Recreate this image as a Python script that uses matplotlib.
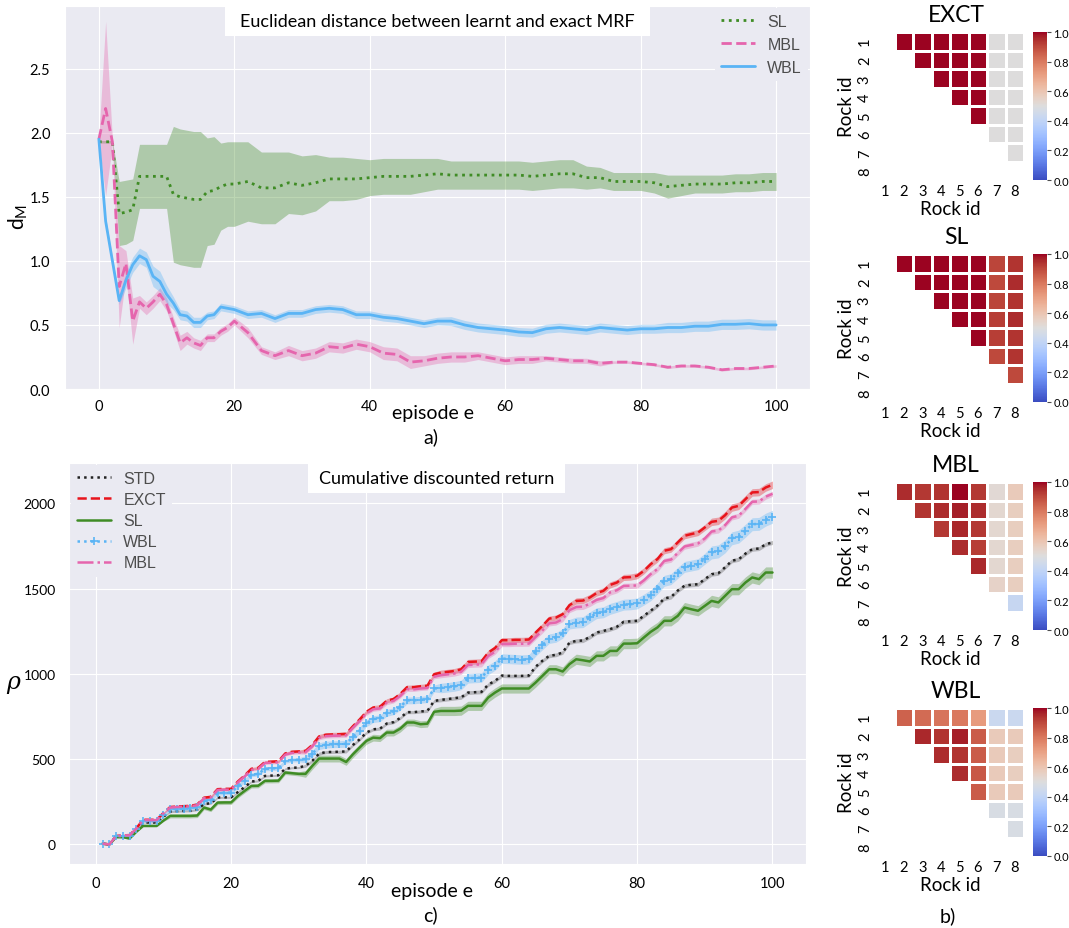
import numpy as np
import matplotlib.pyplot as plt
import seaborn as sns
from matplotlib.colors import ListedColormap
from matplotlib.patches import Rectangle
from matplotlib.ticker import MultipleLocator

# ---- distance between learnt and exact MRF (panel a) ----
ep_a = list(range(0, 21)) + list(range(22, 101, 2))

sl_d = [1.93, 1.93, 1.93, 1.37, 1.38, 1.40, 1.66, 1.66, 1.66, 1.66, 1.66,
        1.52, 1.50, 1.49, 1.48, 1.48, 1.54, 1.55, 1.58, 1.60, 1.60,
        1.62, 1.57, 1.57, 1.61, 1.59, 1.61, 1.64, 1.64, 1.64, 1.65,
        1.66, 1.66, 1.66, 1.67, 1.68, 1.67, 1.67, 1.67, 1.67, 1.67,
        1.67, 1.66, 1.67, 1.68, 1.68, 1.65, 1.65, 1.62, 1.62, 1.62,
        1.61, 1.58, 1.59, 1.60, 1.60, 1.60, 1.61, 1.61, 1.62, 1.62]
sl_d_std = [0.01, 0.01, 0.01, 0.25, 0.25, 0.24, 0.25, 0.25, 0.25, 0.25, 0.25,
            0.53, 0.53, 0.53, 0.53, 0.53, 0.42, 0.42, 0.34, 0.33, 0.33,
            0.31, 0.28, 0.28, 0.24, 0.23, 0.22, 0.17, 0.17, 0.16, 0.14,
            0.14, 0.14, 0.14, 0.13, 0.12, 0.11, 0.11, 0.11, 0.11, 0.11,
            0.11, 0.11, 0.11, 0.11, 0.11, 0.09, 0.08, 0.07, 0.07, 0.07,
            0.08, 0.09, 0.08, 0.07, 0.07, 0.07, 0.07, 0.07, 0.07, 0.07]

mbl_d = [1.95, 2.19, 1.93, 0.80, 0.98, 0.53, 0.68, 0.63, 0.68, 0.74, 0.66,
         0.51, 0.36, 0.40, 0.36, 0.34, 0.40, 0.40, 0.45, 0.48, 0.53,
         0.44, 0.30, 0.26, 0.30, 0.26, 0.28, 0.33, 0.32, 0.35, 0.33,
         0.28, 0.27, 0.21, 0.22, 0.24, 0.25, 0.25, 0.26, 0.24, 0.22,
         0.23, 0.23, 0.24, 0.23, 0.22, 0.22, 0.20, 0.21, 0.21, 0.20,
         0.19, 0.17, 0.18, 0.18, 0.17, 0.15, 0.16, 0.16, 0.17, 0.18]
mbl_d_std = [0.02, 0.68, 0.02, 0.32, 0.10, 0.18, 0.05, 0.05, 0.05, 0.05, 0.05,
             0.05, 0.06, 0.05, 0.04, 0.04, 0.03, 0.03, 0.03, 0.03, 0.03,
             0.04, 0.03, 0.03, 0.04, 0.04, 0.04, 0.04, 0.04, 0.04, 0.04,
             0.05, 0.05, 0.05, 0.04, 0.04, 0.04, 0.04, 0.03, 0.03, 0.03,
             0.03, 0.03, 0.02, 0.02, 0.02, 0.02, 0.02, 0.01, 0.01, 0.01,
             0.01, 0.01, 0.01, 0.01, 0.01, 0.01, 0.01, 0.01, 0.01, 0.01]

wbl_d = [1.95, 1.31, 1.00, 0.69, 0.85, 0.97, 1.04, 1.01, 0.88, 0.84, 0.74,
         0.67, 0.58, 0.57, 0.52, 0.52, 0.57, 0.58, 0.64, 0.63, 0.62,
         0.58, 0.59, 0.55, 0.59, 0.59, 0.62, 0.63, 0.62, 0.58, 0.58,
         0.56, 0.55, 0.53, 0.51, 0.53, 0.53, 0.50, 0.48, 0.47, 0.46,
         0.445, 0.44, 0.47, 0.48, 0.47, 0.46, 0.48, 0.47, 0.46, 0.47,
         0.47, 0.48, 0.48, 0.49, 0.49, 0.505, 0.505, 0.51, 0.50, 0.50]
wbl_d_std = [0.02, 0.03, 0.03, 0.03, 0.06, 0.06, 0.06, 0.06, 0.08, 0.08, 0.07,
             0.05, 0.04, 0.04, 0.04, 0.04, 0.03, 0.03, 0.03, 0.03, 0.03,
             0.03, 0.03, 0.03, 0.03, 0.03, 0.03, 0.03, 0.03, 0.03, 0.03,
             0.03, 0.03, 0.03, 0.03, 0.03, 0.035, 0.035, 0.035, 0.035, 0.035,
             0.035, 0.035, 0.035, 0.035, 0.035, 0.035, 0.035, 0.035, 0.035, 0.035,
             0.035, 0.04, 0.04, 0.04, 0.04, 0.04, 0.04, 0.04, 0.04, 0.04]

# ---- cumulative discounted return (panel c) ----
ep_c = list(range(1, 101))

std_ret = [0, -4, 41, 43, 45, 80, 124, 124, 124, 158,
           188, 190, 192, 193, 200, 233, 237, 271, 272, 272,
           303, 332, 365, 369, 398, 400, 402, 440, 446, 447,
           458, 487, 529, 538, 539, 540, 542, 580, 613, 653,
           672, 676, 706, 714, 739, 773, 773, 777, 780, 839,
           845, 850, 855, 860, 888, 890, 892, 935, 957, 988,
           986, 986, 986, 988, 1040, 1075, 1104, 1110, 1124, 1182,
           1192, 1194, 1215, 1241, 1250, 1261, 1275, 1304, 1307, 1310,
           1340, 1369, 1400, 1441, 1450, 1488, 1516, 1522, 1525, 1555,
           1584, 1590, 1625, 1663, 1672, 1705, 1731, 1735, 1760, 1771]
exct_ret = [0, -5, 45, 48, 50, 90, 140, 140, 140, 180,
            215, 218, 220, 222, 230, 270, 275, 320, 322, 322,
            365, 400, 440, 445, 480, 482, 484, 530, 540, 542,
            545, 580, 630, 640, 642, 643, 645, 690, 730, 775,
            800, 805, 840, 850, 880, 920, 920, 925, 928, 996,
            1005, 1010, 1015, 1025, 1068, 1070, 1072, 1123, 1150, 1196,
            1196, 1198, 1198, 1200, 1241, 1280, 1323, 1329, 1349, 1402,
            1427, 1429, 1447, 1473, 1486, 1521, 1535, 1565, 1567, 1575,
            1604, 1643, 1673, 1722, 1731, 1771, 1810, 1820, 1829, 1859,
            1892, 1898, 1931, 1976, 1986, 2025, 2065, 2067, 2094, 2110]
sl_ret = [0, -5, 38, 38, 30, 70, 104, 104, 104, 135,
          163, 163, 163, 163, 165, 212, 200, 241, 242, 242,
          280, 310, 339, 340, 369, 369, 370, 418, 414, 410,
          410, 457, 500, 500, 500, 500, 480, 525, 565, 604,
          623, 620, 653, 653, 676, 712, 712, 702, 705, 775,
          780, 780, 780, 782, 810, 810, 810, 859, 888, 912,
          912, 912, 912, 912, 947, 986, 1025, 1025, 1012, 1055,
          1084, 1078, 1071, 1104, 1104, 1133, 1133, 1176, 1176, 1178,
          1212, 1245, 1271, 1310, 1310, 1339, 1388, 1378, 1369, 1398,
          1427, 1418, 1457, 1496, 1496, 1535, 1565, 1555, 1594, 1594]
wbl_ret = [0, -4, 43, 45, 47, 85, 132, 132, 132, 170,
           202, 204, 206, 208, 215, 251, 256, 297, 299, 300,
           338, 370, 405, 410, 440, 442, 444, 485, 492, 493,
           496, 528, 573, 582, 584, 585, 587, 628, 665, 708,
           732, 737, 769, 778, 805, 842, 842, 846, 849, 912,
           915, 919, 924, 933, 972, 974, 976, 1022, 1047, 1088,
           1086, 1084, 1082, 1084, 1130, 1168, 1205, 1212, 1236, 1290,
           1300, 1302, 1330, 1355, 1360, 1380, 1392, 1405, 1407, 1412,
           1435, 1460, 1500, 1545, 1555, 1592, 1627, 1635, 1643, 1675,
           1712, 1718, 1748, 1795, 1805, 1840, 1878, 1880, 1905, 1922]
mbl_ret = [0, -5, 44, 47, 49, 88, 138, 138, 138, 177,
           212, 215, 217, 219, 226, 266, 271, 315, 317, 317,
           360, 395, 434, 439, 474, 476, 478, 523, 533, 535,
           538, 572, 622, 632, 634, 635, 637, 681, 721, 766,
           790, 795, 829, 839, 868, 907, 907, 912, 915, 981,
           990, 995, 1000, 1010, 1050, 1052, 1054, 1103, 1128, 1173,
           1173, 1175, 1175, 1176, 1215, 1253, 1295, 1300, 1320, 1373,
           1391, 1393, 1410, 1433, 1444, 1477, 1490, 1515, 1516, 1518,
           1548, 1585, 1614, 1662, 1670, 1709, 1747, 1756, 1765, 1794,
           1835, 1841, 1873, 1918, 1928, 1968, 2010, 2012, 2040, 2057]

# spread of the return curves, one value per episode
std_ret_sd = [3] * 10 + [6] * 20 + [9] * 20 + [11] * 20 + [12] * 30
exct_ret_sd = [4] * 10 + [8] * 20 + [12] * 20 + [15] * 20 + [18] * 20 + [22] * 10
sl_ret_sd = [5] * 10 + [12] * 20 + [20] * 20 + [27] * 20 + [30] * 20 + [33] * 10
wbl_ret_sd = [5] * 10 + [12] * 20 + [20] * 20 + [28] * 20 + [32] * 20 + [38] * 10
mbl_ret_sd = [4] * 10 + [8] * 20 + [12] * 20 + [15] * 20 + [16] * 20 + [15] * 10

# ---- learnt MRF edge weights (panel b), upper triangle row by row ----
rock_ids = ["1", "2", "3", "4", "5", "6", "7", "8"]
mrf_exct = [[1, 1, 1, 1, 1, 0.5, 0.5],
            [1, 1, 1, 1, 0.5, 0.5],
            [1, 1, 1, 0.5, 0.5],
            [1, 1, 0.5, 0.5],
            [1, 0.5, 0.5],
            [0.5, 0.5],
            [0.5]]
mrf_sl = [[1, 1, 1, 1, 1, 0.91, 0.94],
          [1, 1, 1, 1, 0.90, 0.95],
          [1, 1, 1, 0.91, 0.94],
          [1, 1, 0.92, 0.95],
          [1, 0.92, 0.94],
          [0.90, 0.94],
          [0.90]]
mrf_mbl = [[0.95, 0.93, 0.94, 1.0, 0.93, 0.52, 0.58],
           [0.94, 0.95, 0.97, 0.95, 0.53, 0.57],
           [0.93, 0.96, 0.93, 0.53, 0.57],
           [0.95, 0.92, 0.53, 0.57],
           [0.96, 0.53, 0.57],
           [0.55, 0.57],
           [0.42]]
mrf_wbl = [[0.85, 0.83, 0.81, 0.80, 0.72, 0.43, 0.43],
           [0.96, 0.94, 0.97, 0.86, 0.58, 0.58],
           [0.95, 0.94, 0.86, 0.58, 0.57],
           [0.95, 0.87, 0.58, 0.57],
           [0.86, 0.58, 0.58],
           [0.48, 0.48],
           [0.48]]

sns.set_style("darkgrid")
plt.rcParams["font.family"] = ["Lato", "DejaVu Sans"]
plt.rcParams["mathtext.fontset"] = "custom"
plt.rcParams["mathtext.rm"] = "Lato"
for key in ["text.color", "axes.labelcolor", "xtick.color", "ytick.color"]:
    plt.rcParams[key] = "black"

# coolwarm with a slightly deeper red half
lev = np.linspace(0, 1, 256)
cw = plt.get_cmap("coolwarm")(lev)
cw[:, :3] *= (1 - 0.14 * np.clip((lev - 0.5) / 0.5, 0, 1))[:, None]
deep_cw = ListedColormap(cw)

W, H = 1069, 929
fig = plt.figure(figsize=(W / 100, H / 100), dpi=100)


def px_axes(left, top, right, bottom):
    return fig.add_axes([left / W, 1 - bottom / H, (right - left) / W, (bottom - top) / H])


def px_text(x, y, s, **kw):
    return fig.text(x / W, 1 - y / H, s, ha="center", va="center", **kw)


def title_box(left, top, right, bottom, text):
    fig.add_artist(Rectangle((left / W, 1 - bottom / H), (right - left) / W, (bottom - top) / H,
                             transform=fig.transFigure, facecolor="white", edgecolor="none"))
    px_text((left + right) / 2, (top + bottom) / 2, text, fontsize=13)


def legend(ax, loc, spacing):
    return ax.legend(loc=loc, facecolor="#eaeaf2", edgecolor="none", framealpha=1,
                     prop={"family": "Liberation Sans", "size": 11.5}, labelcolor="0.3",
                     handlelength=2.1, handletextpad=0.8, borderaxespad=0.1,
                     labelspacing=spacing)


# panel a
ax = px_axes(65, 7, 810, 390)
for name, m, s, color, ls in [("SL", sl_d, sl_d_std, "#3f8c25", ":"),
                              ("MBL", mbl_d, mbl_d_std, "#e565ad", "--"),
                              ("WBL", wbl_d, wbl_d_std, "#5ab4f5", "-")]:
    m, s = np.array(m), np.array(s)
    ax.fill_between(ep_a, m - s, m + s, color=color, alpha=0.35, lw=0)
    ax.plot(ep_a, m, color=color, ls=ls, lw=2, label=name)
ax.set_xlim(-5, 105)
ax.set_ylim(0, 2.99)
ax.xaxis.set_major_locator(MultipleLocator(20))
ax.yaxis.set_major_locator(MultipleLocator(0.5))
ax.tick_params(axis="x", labelsize=10.5, pad=4)
ax.tick_params(axis="y", labelsize=10.5, pad=7)
legend(ax, "upper right", 0.5)
title_box(225, 7, 650, 37, "Euclidean distance between learnt and exact MRF")
px_text(18, 217, r"d$_{\mathrm{M}}$", fontsize=15, rotation=90)
px_text(433, 413, "episode e", fontsize=14)
px_text(431, 437, "a)", fontsize=14)

# panel c
ax = px_axes(69, 464, 806, 865)
curves = [("STD", std_ret, std_ret_sd, "#222222", ":", None, "#555555"),
          ("EXCT", exct_ret, exct_ret_sd, "#e8141c", "--", None, "#e8141c"),
          ("SL", sl_ret, sl_ret_sd, "#3f8c25", "-", None, "#3f8c25"),
          ("WBL", wbl_ret, wbl_ret_sd, "#5ab4f5", ":", "+", "#5ab4f5"),
          ("MBL", mbl_ret, mbl_ret_sd, "#e565ad", "-.", None, "#e565ad")]
for name, m, s, color, ls, marker, band in curves:
    m, s = np.array(m), np.array(s)
    ax.fill_between(ep_c, m - s, m + s, color=band, alpha=0.35, lw=0)
    ax.plot(ep_c, m, color=color, ls=ls, lw=1.8, marker=marker, ms=6, mew=1.2, label=name)
ax.set_xlim(-3.95, 104.95)
ax.set_ylim(-120, 2238)
ax.xaxis.set_major_locator(MultipleLocator(20))
ax.yaxis.set_major_locator(MultipleLocator(500))
ax.tick_params(axis="x", labelsize=10.5, pad=5)
ax.tick_params(axis="y", labelsize=10, pad=6)
legend(ax, "upper left", 0.38)
title_box(308, 464, 565, 494, "Cumulative discounted return")
px_text(13, 683, "ρ", fontsize=17, family="DejaVu Serif", style="italic")
px_text(432, 892, "episode e", fontsize=14)
px_text(430, 915, "c)", fontsize=14)


# panel b
def draw_mrf(name, rows, top):
    mat = np.full((8, 8), np.nan)
    for i, row in enumerate(rows):
        mat[i, i + 1:] = row
    hx = px_axes(876, top, 1024, top + 148)
    mesh = hx.pcolormesh(np.ma.masked_invalid(mat), cmap=deep_cw, vmin=0, vmax=1,
                         edgecolors="white", linewidth=1)
    hx.set_xlim(0, 8)
    hx.set_ylim(8, 0)
    hx.set_facecolor("white")
    hx.grid(False)
    centers = np.arange(8) + 0.5
    hx.set_xticks(centers, rock_ids)
    hx.set_yticks(centers, rock_ids, rotation=90, va="center")
    hx.tick_params(length=0, labelsize=10.5, pad=3)
    hx.set_xlabel("Rock id", fontsize=13.5, labelpad=1)
    hx.set_ylabel("Rock id", fontsize=13.5, labelpad=2)
    for sp in hx.spines.values():
        sp.set_visible(False)
    cax = px_axes(1033, top, 1047, top + 148)
    cb = fig.colorbar(mesh, cax=cax, ticks=[0, 0.2, 0.4, 0.6, 0.8, 1.0])
    cb.outline.set_visible(False)
    cax.tick_params(labelsize=8, length=3, width=0.8, color="0.3", pad=1.5)
    px_text(956, top - 17, name, fontsize=16.5)


draw_mrf("EXCT", mrf_exct, 33)
draw_mrf("SL", mrf_sl, 255)
draw_mrf("MBL", mrf_mbl, 483)
draw_mrf("WBL", mrf_wbl, 709)
px_text(948, 916, "b)", fontsize=14)

fig.savefig("out.png", dpi=100)
